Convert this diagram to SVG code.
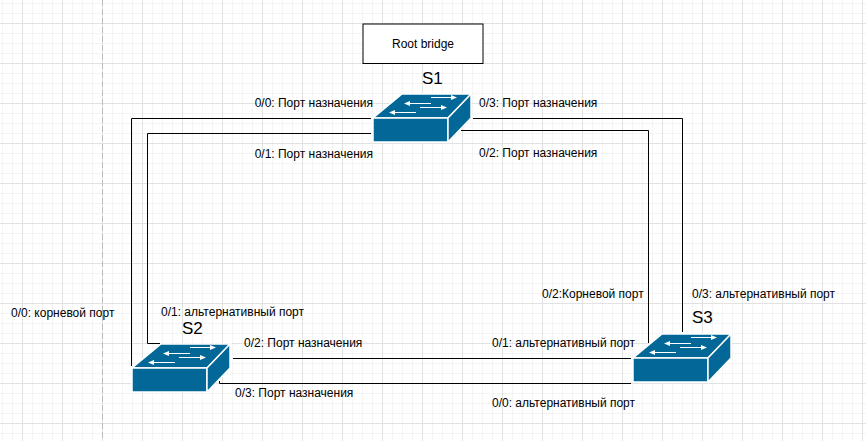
<svg xmlns="http://www.w3.org/2000/svg" xmlns:xlink="http://www.w3.org/1999/xlink" width="866" height="441" viewBox="0 0 866 441">
<style>
text{font-family:"Liberation Sans",Arial,sans-serif;font-size:12px;fill:#000}
.big{font-size:17px}
.c{fill:none;stroke:#000;stroke-width:1}
.sw{fill:#036897;stroke:#fff;stroke-width:1.5}
.ar{fill:none;stroke:#fff;stroke-width:1.2}
.ah{fill:#fff}
</style>
<defs>
<pattern id="minor" width="10" height="10" patternUnits="userSpaceOnUse" x="2" y="3"><path d="M0.5 0V10M0 0.5H10" fill="none" stroke="#f4f4f4" stroke-width="1"/></pattern>
<pattern id="major" width="40" height="40" patternUnits="userSpaceOnUse" x="22" y="23"><path d="M0.5 0V40M0 0.5H40" fill="none" stroke="#e2e2e2" stroke-width="1"/></pattern>
<g id="switch">
<path class="sw" d="M0 24L29 0H98L75 24Z"/>
<path class="sw" d="M75 24H0V48H75Z"/>
<path class="sw" d="M75 24L98 0V24L75 48Z"/>
<path class="ar" d="M35 9.500H58M58 3.500H79M47 13.500H69M20 18.500H43"/>
<path class="ah" d="M31 9.500L37 7V12ZM84 3.500L78 1V6ZM74 13.500L68 11V16ZM16 18.500L22 16V21Z"/>
</g>
</defs>
<rect width="866" height="441" fill="#fff"/>
<rect width="866" height="441" fill="url(#minor)"/>
<rect width="866" height="441" fill="url(#major)"/>
<path d="M102.500 0V441" fill="none" stroke="#bbb" stroke-dasharray="6 3"/>
<g id="connectors">
<path class="c" d="M371 118.500H131.500V366"/>
<path class="c" d="M371 133.500H147.500V343.500H160"/>
<path class="c" d="M473 118.500H682.500V332"/>
<path class="c" d="M461 130.500H648.500V343"/>
<path class="c" d="M233 358.500H631"/>
<path class="c" d="M219.500 381V383.500H631"/>
</g>
<g id="root-bridge">
<rect x="363" y="24" width="120" height="39.500" fill="#fff" stroke="#000"/>
<text x="423" y="48" text-anchor="middle">Root bridge</text>
</g>
<g id="s1">
<use href="#switch" x="373" y="94"/>
<text class="big" x="422" y="84">S1</text>
</g>
<g id="s2">
<use href="#switch" x="132" y="344"/>
<text class="big" x="182" y="334">S2</text>
</g>
<g id="s3">
<use href="#switch" x="633" y="334"/>
<text class="big" x="692" y="323">S3</text>
</g>
<g id="labels">
<text x="373" y="107" text-anchor="end">0/0: Порт назначения</text>
<text x="479" y="107">0/3: Порт назначения</text>
<text x="373" y="158" text-anchor="end">0/1: Порт назначения</text>
<text x="479" y="157">0/2: Порт назначения</text>
<text x="11" y="317">0/0: корневой порт</text>
<text x="161" y="316">0/1: альтернативный порт</text>
<text x="542" y="298">0/2:Корневой порт</text>
<text x="692" y="298">0/3: альтернативный порт</text>
<text x="244" y="347">0/2: Порт назначения</text>
<text x="492" y="347">0/1: альтернативный порт</text>
<text x="235" y="397">0/3: Порт назначения</text>
<text x="492" y="407">0/0: альтернативный порт</text>
</g>
</svg>
